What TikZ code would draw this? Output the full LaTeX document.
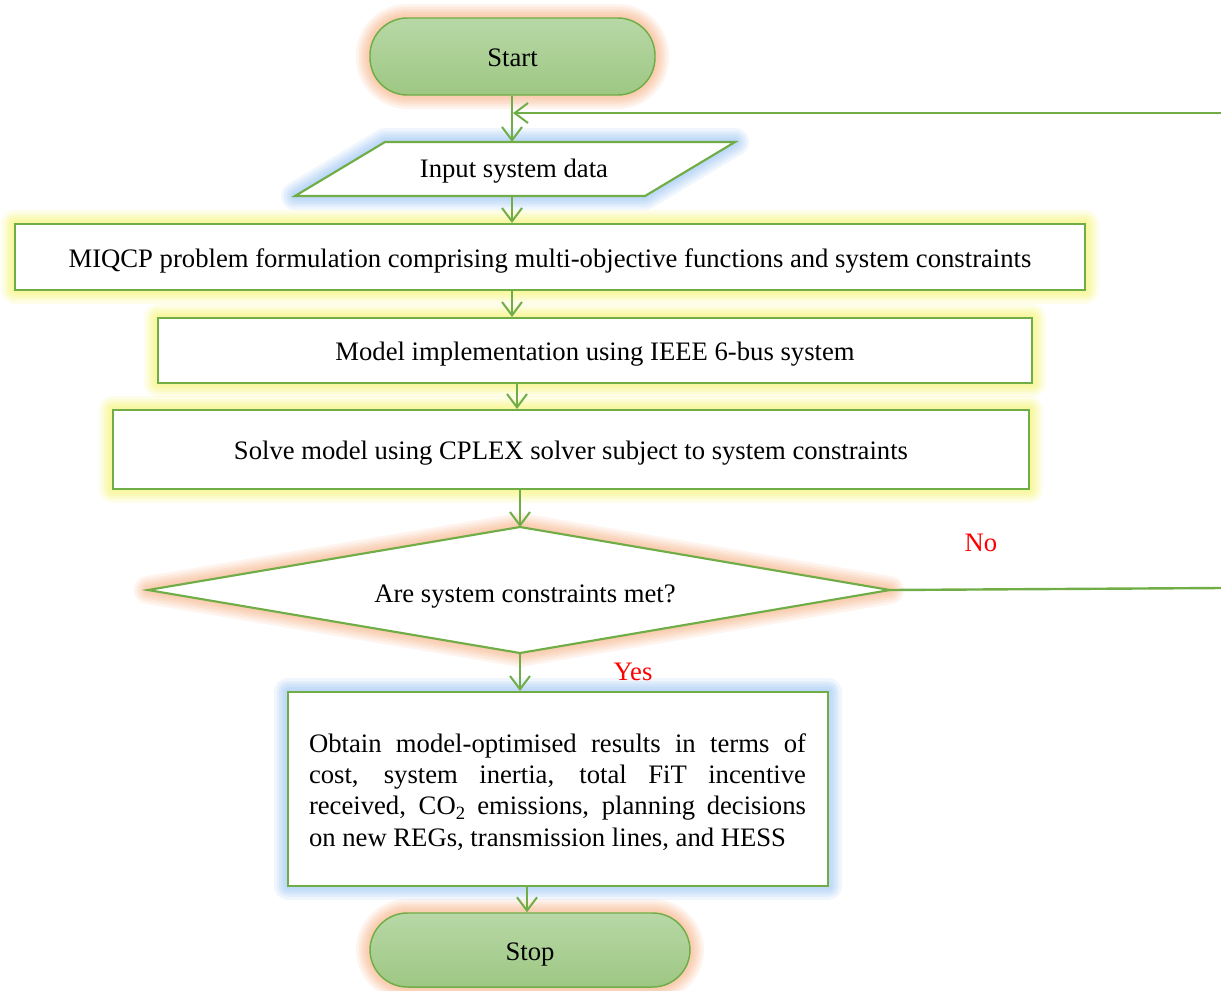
\documentclass[tikz,border=0pt]{standalone}
\usepackage{fontspec}
\setmainfont{Liberation Serif}
\usetikzlibrary{arrows.meta}
\definecolor{lineg}{HTML}{70AD47}
\definecolor{glowor}{HTML}{F6A877}
\definecolor{glowbl}{HTML}{8DBBF2}
\definecolor{glowye}{HTML}{F4F25A}
\definecolor{termtop}{RGB}{183,216,166}
\definecolor{termbot}{RGB}{158,199,131}
\tikzset{
  halo/.style 2 args={preaction={draw=#1,draw opacity=0.13,line width=#2,line join=round}},
  glow/.style={halo={#1}{21pt},halo={#1}{17pt},halo={#1}{13.5pt},
    halo={#1}{10.5pt},halo={#1}{7.5pt},halo={#1}{4.5pt}},
  oneline/.style={text height=19pt,text depth=4pt},
  boxframe/.style={draw=lineg,line width=1.6pt,fill=white},
  procbox/.style={boxframe,glow=glowye,rectangle,inner sep=0pt,oneline},
  terminal/.style={draw=lineg,line width=1.1pt,glow=glowor,oneline,
    top color=termtop,bottom color=termbot,rounded corners=28pt,inner sep=0pt},
  arr/.style={draw=lineg,line width=1.5pt,-{Straight Barb[length=10pt,width=15pt,line width=1.5pt]}},
  flow/.style={draw=lineg,line width=1.8pt},
  answer/.style={text=red,oneline}
}
\begin{document}
\begin{tikzpicture}[x=0.75pt,y=-0.75pt,font=\fontsize{20}{23.4}\selectfont]
\useasboundingbox (0,0) rectangle (1221,990);

% terminals
\node[terminal,minimum width=213.75pt,minimum height=57.75pt] (start) at (512.5,56.5) {Start};
\node[terminal,minimum width=240pt,minimum height=55.5pt] (stop) at (530,950) {Stop};

% input parallelogram
\coordinate (p1) at (385,142);
\coordinate (p2) at (735,142);
\coordinate (p3) at (645,196);
\coordinate (p4) at (295,196);
\draw[boxframe,glow=glowbl] (p1) -- (p2) -- (p3) -- (p4) -- cycle;
\node[oneline] (input) at (514,167) {Input system data};
\coordinate (inTop) at (512,142);
\coordinate (inBot) at (512,196);

% process boxes
\node[procbox,minimum width=802.5pt,minimum height=49.5pt] (miqcp) at (550,257)
  {MIQCP problem formulation comprising multi-objective functions and system constraints};
\node[procbox,minimum width=655.5pt,minimum height=48.75pt] (model) at (595,350.5)
  {Model implementation using IEEE 6-bus system};
\node[procbox,minimum width=687pt,minimum height=59.25pt] (solve) at (571,449.5)
  {Solve model using CPLEX solver subject to system constraints};

% decision diamond
\coordinate (dT) at (520,527);
\coordinate (dR) at (890,590);
\coordinate (dB) at (520,653);
\coordinate (dL) at (148,590);
\draw[boxframe,glow=glowor] (dT) -- (dR) -- (dB) -- (dL) -- cycle;
\node[oneline] (decide) at (525,592) {Are system constraints met?};

% results box and its justified text
\node[boxframe,glow=glowbl,rectangle,minimum width=405pt,minimum height=145.5pt,
      inner sep=0pt] (result) at (558,789) {};
\node[text width=372.75pt,align=justify,inner sep=0pt] (resultText) at (557.5,792)
  {Obtain model-optimised results in terms of\linebreak
   cost, system inertia, total FiT incentive\linebreak
   received, CO\textsubscript{2} emissions, planning decisions\linebreak
   on new REGs, transmission lines, and HESS};

% answer labels
\node[answer] (no) at (981,541) {No};
\node[answer] (yes) at (633,670) {Yes};

% connectors
\coordinate (x2) at (512,0);
\coordinate (x3) at (517,0);
\coordinate (x4) at (520,0);
\coordinate (x6) at (527,0);
\coordinate (loopIn) at (513,113);
\coordinate (loopTop) at (1221,113);
\coordinate (loopBot) at (1221,588);

\draw[arr] (start.south -| inTop) -- (inTop);
\draw[arr] (inBot) -- (miqcp.north -| inBot);
\draw[arr] (miqcp.south -| x2) -- (model.north -| x2);
\draw[arr] (model.south -| x3) -- (solve.north -| x3);
\draw[arr] (solve.south -| x4) -- (dT);
\draw[arr] (dB) -- (dB |- result.north);
\draw[arr] (result.south -| x6) -- (stop.north -| x6);
\draw[flow] (dR) -- (loopBot);
\draw[arr] (loopTop) -- (loopIn);
\end{tikzpicture}
\end{document}
